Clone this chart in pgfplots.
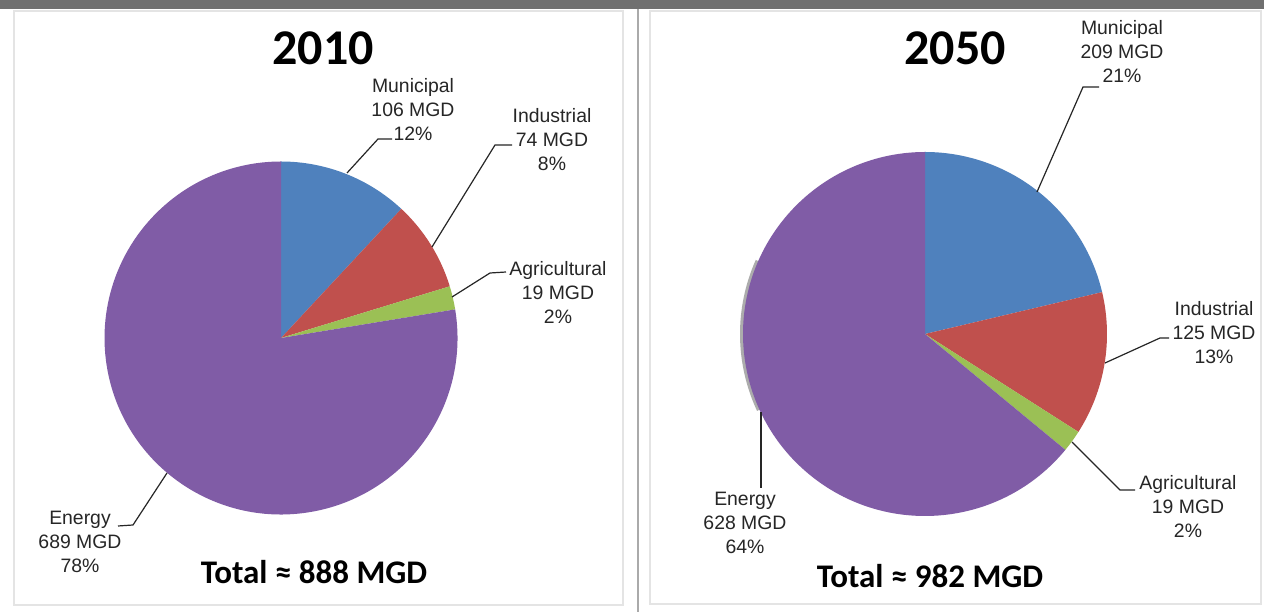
\documentclass[border=0pt]{standalone}
\usepackage{pgfplots}
\usepackage{pgfplotstable}
\pgfplotsset{compat=1.18}
\usepackage{fontspec}
\setmainfont{Liberation Sans}
\newfontfamily\calibri{Carlito}

\definecolor{cMun}{RGB}{79,129,189}
\definecolor{cInd}{RGB}{192,80,77}
\definecolor{cAgr}{RGB}{155,192,85}
\definecolor{cEne}{RGB}{128,92,166}
\definecolor{topbar}{RGB}{112,112,112}
\definecolor{frame}{RGB}{228,228,228}
\definecolor{divider}{RGB}{170,170,170}

\tikzset{
  lbl/.style={font=\fontsize{9.7}{12}\selectfont, align=center, inner sep=0pt, anchor=center, text=black!85},
  ttl/.style={font=\calibri\bfseries\fontsize{25}{28}\selectfont, inner sep=0pt, anchor=center},
  tot/.style={font=\calibri\bfseries\fontsize{16.5}{19}\selectfont, inner sep=0pt, anchor=base},
  lead/.style={black!85, line width=0.6pt},
}

\pgfplotstableread{
name value col
Municipal 106 cMun
Industrial 74 cInd
Agricultural 19 cAgr
Energy 689 cEne
}\tblA

\pgfplotstableread{
name value col
Municipal 209 cMun
Industrial 125 cInd
Agricultural 19 cAgr
Energy 628 cEne
}\tblB

% #1 table, #2 cx, #3 cy (pixels), #4 radius (pixels)
\newcommand{\drawpie}[4]{%
  \pgfplotstablegetrowsof{#1}%
  \pgfmathtruncatemacro\nrows{\pgfplotsretval-1}%
  \def\tot{0}%
  \pgfplotsforeachungrouped \i in {0,...,\nrows}{%
    \pgfplotstablegetelem{\i}{value}\of{#1}%
    \pgfmathsetmacro\tot{\tot+\pgfplotsretval}%
  }%
  \def\cum{0}%
  \pgfmathsetmacro\Rpt{#4*0.5}%
  \pgfplotsforeachungrouped \i in {0,...,\nrows}{%
    \pgfplotstablegetelem{\i}{value}\of{#1}\let\v\pgfplotsretval
    \pgfplotstablegetelem{\i}{col}\of{#1}\let\c\pgfplotsretval
    \pgfmathsetmacro\aA{90-360*(\cum/\tot)}%
    \pgfmathsetmacro\cum{\cum+\v}%
    \pgfmathsetmacro\aB{90-360*(\cum/\tot)}%
    \edef\temp{\noexpand\fill[\c] (axis cs:#2,#3) -- ++(\aA:\Rpt pt) arc[start angle=\aA, end angle=\aB, radius=\Rpt pt] -- cycle;}%
    \temp
  }%
}

\begin{document}
\begin{tikzpicture}
\begin{axis}[
  x=0.5pt, y=0.5pt, y dir=reverse,
  xmin=0, xmax=1264, ymin=0, ymax=612,
  hide axis, scale only axis, clip=false,
]
% background and frames
\fill[white] (axis cs:0,0) rectangle (axis cs:1264,612);
\draw[frame, line width=0.8pt] (axis cs:14,11) rectangle (axis cs:623,605);
\draw[frame, line width=0.8pt] (axis cs:650,11) rectangle (axis cs:1261,604);
\fill[topbar] (axis cs:0,0) rectangle (axis cs:1264,9);
\draw[divider, line width=1.2pt] (axis cs:638,9) -- (axis cs:638,612);

% faint shadow on the left edge of the 2050 pie
\fill[gray!65] (axis cs:922,334) -- ++(156:91pt) arc[start angle=156, end angle=205, radius=91pt] -- cycle;

% pies
\drawpie{\tblA}{281}{338}{176.5}
\drawpie{\tblB}{925}{334}{182}

% titles
\node[ttl] at (axis cs:323,48) {2010};
\node[ttl] at (axis cs:955,48) {2050};
\node[tot] at (axis cs:314,584) {Total ≈ 888 MGD};
\node[tot] at (axis cs:930,588) {Total ≈ 982 MGD};

% 2010 labels
\node[lbl] at (axis cs:413,110) {Municipal\\106 MGD\\12\%};
\node[lbl] at (axis cs:552,140) {Industrial\\74 MGD\\8\%};
\node[lbl] at (axis cs:558,293) {Agricultural\\19 MGD\\2\%};
\node[lbl] at (axis cs:80,542) {Energy\\689 MGD\\78\%};
\draw[lead] (axis cs:392,139) -- (axis cs:378,139) -- (axis cs:347,173);
\draw[lead] (axis cs:512,145) -- (axis cs:495,145) -- (axis cs:432,247);
\draw[lead] (axis cs:506,272) -- (axis cs:490,273) -- (axis cs:452,297);
\draw[lead] (axis cs:118,526) -- (axis cs:133,525) -- (axis cs:167,473);

% 2050 labels
\node[lbl] at (axis cs:1122,52) {Municipal\\209 MGD\\21\%};
\node[lbl] at (axis cs:1214,333) {Industrial\\125 MGD\\13\%};
\node[lbl] at (axis cs:1188,507) {Agricultural\\19 MGD\\2\%};
\node[lbl] at (axis cs:745,523) {Energy\\628 MGD\\64\%};
\draw[lead] (axis cs:1099,87) -- (axis cs:1083,87) -- (axis cs:1037,192);
\draw[lead] (axis cs:1169,338) -- (axis cs:1160,338) -- (axis cs:1105,363);
\draw[lead] (axis cs:1135,490) -- (axis cs:1120,490) -- (axis cs:1072,442);
\draw[lead] (axis cs:761,488) -- (axis cs:761,412);
\end{axis}
\end{tikzpicture}
\end{document}
